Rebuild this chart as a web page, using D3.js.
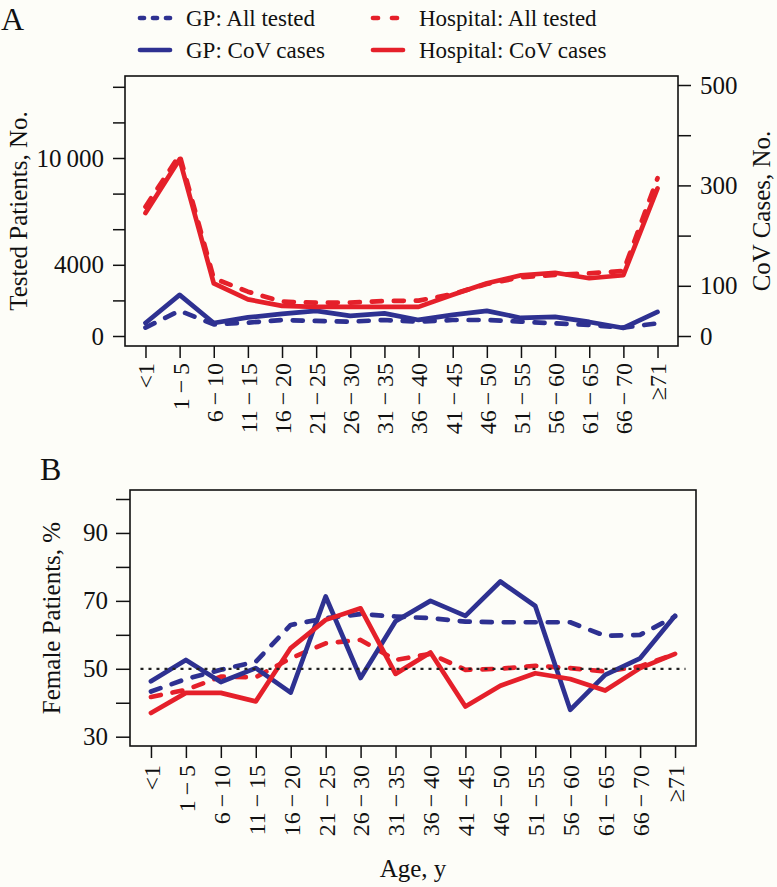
<!DOCTYPE html>
<html>
<head>
<meta charset="utf-8">
<script src="https://cdn.jsdelivr.net/npm/d3@7"></script>
<style>
  html, body { margin: 0; padding: 0; background: #fdfdf8; }
  svg { display: block; }
  text { font-family: "Liberation Serif", "Times New Roman", serif; fill: #111; }
</style>
</head>
<body>
<svg id="chart" width="777" height="887"></svg>
<script>
// ---------------- DATA ----------------
const categories = ["<1","1\u2009\u2212\u20095","6\u2009\u2212\u200910","11\u2009\u2212\u200915","16\u2009\u2212\u200920","21\u2009\u2212\u200925","26\u2009\u2212\u200930","31\u2009\u2212\u200935","36\u2009\u2212\u200940","41\u2009\u2212\u200945","46\u2009\u2212\u200950","51\u2009\u2212\u200955","56\u2009\u2212\u200960","61\u2009\u2212\u200965","66\u2009\u2212\u200970","\u226571"];

// Panel A: tested patients (left axis) and CoV cases (right axis)
const gpTested   = [470,1420,655,750,900,845,805,900,805,900,900,805,710,620,470,710];
const hospTested = [7265,10170,3240,2490,1930,1870,1880,1965,1985,2360,2920,3295,3430,3520,3650,8860];
const gpCases    = [26,82,26,37,44,50,40,45,32,42,50,36,38,28,16,48];
const hospCases  = [245,352,105,73,60,58,58,58,58,82,105,121,126,115,121,294];

// Panel B: female patients, %
const gpTestedFemale   = [43.3,47.0,49.7,52.1,62.9,64.9,66.1,65.4,64.9,63.9,63.7,63.7,63.7,59.7,60.0,65.4];
const hospTestedFemale = [41.7,43.8,47.7,47.5,53.1,57.5,58.5,52.6,54.4,49.7,50.0,50.9,50.2,49.2,50.7,54.4];
const gpCasesFemale    = [46.3,52.6,46.1,50.2,43.0,71.3,47.3,64.0,70.0,65.6,75.7,68.5,37.9,48.2,53.1,65.6];
const hospCasesFemale  = [37.0,42.9,42.9,40.4,56.1,64.4,67.8,48.5,54.8,38.9,45.0,48.7,47.0,43.6,50.2,54.4];

// Axis ticks / labels
const leftTicksA  = [0,2000,4000,6000,8000,10000,12000,14000];
const leftLabelsA = {0:"0", 4000:"4000", 10000:"10\u2009000"};
const rightTicksA  = [0,100,200,300,400,500];
const rightLabelsA = {0:"0", 100:"100", 300:"300", 500:"500"};
const ticksB  = [30,40,50,60,70,80,90,100];
const labelsB = {30:"30", 50:"50", 70:"70", 90:"90"};
const refLineB = 50;

const legendItems = [
  {label:"GP: All tested",       color:"gp",   dashed:true,  col:0, row:0},
  {label:"Hospital: All tested", color:"hosp", dashed:true,  col:1, row:0},
  {label:"GP: CoV cases",        color:"gp",   dashed:false, col:0, row:1},
  {label:"Hospital: CoV cases",  color:"hosp", dashed:false, col:1, row:1}
];

// ---------------- STYLE ----------------
const COL = {gp:"#2e3191", hosp:"#e5202a"};
const LW = 4.7;
const DASH = "10,12";
const TICK_FS = 25, XTICK_FS = 24, TITLE_FS = 25;
const FONT = "'Liberation Serif', 'Times New Roman', serif";

const svg = d3.select("#chart");
const idx = d3.range(categories.length);

// ---------------- PANEL A ----------------
const A = {l:125, r:678, t:76, b:346};
const xA = d3.scaleLinear().domain([-0.6, categories.length - 1 + 0.6]).range([A.l, A.r]);
const yL = d3.scaleLinear().domain([0,14000]).range([336, 86.8]);
const yR = d3.scaleLinear().domain([0,500]).range([336, 85]);

function styleAxis(g){
  g.attr("font-family", FONT);
  g.select(".domain").remove();
  g.selectAll(".tick line").attr("stroke","#111").attr("stroke-width",1.5);
  g.selectAll(".tick text").attr("font-size",TICK_FS).attr("fill","#111")
    .style("font-family", FONT);
}

svg.append("g").attr("transform",`translate(${A.l},0)`)
  .call(d3.axisLeft(yL).tickValues(leftTicksA).tickSize(12).tickPadding(9)
        .tickFormat(d => leftLabelsA[d] || ""))
  .call(styleAxis);

svg.append("g").attr("transform",`translate(${A.r},0)`)
  .call(d3.axisRight(yR).tickValues(rightTicksA).tickSize(13).tickPadding(9)
        .tickFormat(d => rightLabelsA[d] || ""))
  .call(styleAxis);

function xAxisRot(g, tickSize, pad){
  g.attr("font-family", FONT);
  g.select(".domain").remove();
  g.selectAll(".tick line").attr("stroke","#111").attr("stroke-width",1.5);
  g.selectAll(".tick text")
    .attr("font-size",XTICK_FS).attr("fill","#111")
    .style("font-family", FONT)
    .attr("transform","rotate(-90)")
    .attr("x", -(tickSize + pad)).attr("y", 0).attr("dy","0.35em")
    .attr("text-anchor","end");
}

svg.append("g").attr("transform",`translate(0,${A.b})`)
  .call(d3.axisBottom(xA).tickValues(idx).tickSize(12).tickFormat(i => categories[i]))
  .call(g => xAxisRot(g, 12, 5));

const lineL = d3.line().x((d,i)=>xA(i)).y(d=>yL(d));
const lineR = d3.line().x((d,i)=>xA(i)).y(d=>yR(d));

const gA = svg.append("g");
function drawLine(g, data, gen, color, dashed){
  g.append("path").datum(data).attr("d", gen)
    .attr("fill","none").attr("stroke", COL[color]).attr("stroke-width", LW)
    .attr("stroke-linejoin","round").attr("stroke-linecap","round")
    .attr("stroke-dasharray", dashed ? DASH : null);
}
drawLine(gA, gpTested, lineL, "gp", true);
drawLine(gA, gpCases, lineR, "gp", false);
drawLine(gA, hospTested, lineL, "hosp", true);
drawLine(gA, hospCases, lineR, "hosp", false);

svg.append("rect").attr("x",A.l).attr("y",A.t).attr("width",A.r-A.l).attr("height",A.b-A.t)
  .attr("fill","none").attr("stroke","#111").attr("stroke-width",1.6);

svg.append("text").attr("transform",`translate(27,${(A.t+A.b)/2}) rotate(-90)`)
  .attr("text-anchor","middle").attr("font-size",TITLE_FS).text("Tested Patients, No.");
svg.append("text").attr("transform",`translate(770,${(A.t+A.b)/2}) rotate(-90)`)
  .attr("text-anchor","middle").attr("font-size",TITLE_FS).text("CoV Cases, No.");

svg.append("text").attr("x",1).attr("y",30).attr("font-size",32).text("A");

// legend
const legX = [137, 370], legY = [18, 50];
legendItems.forEach(it => {
  const x0 = legX[it.col], y0 = legY[it.row];
  svg.append("line").attr("x1",x0+3).attr("x2",x0+33).attr("y1",y0).attr("y2",y0)
    .attr("stroke",COL[it.color]).attr("stroke-width",LW).attr("stroke-linecap","round")
    .attr("stroke-dasharray", it.dashed ? (it.color==="gp" ? "4,9" : "5,14") : null);
  svg.append("text").attr("x",x0+49).attr("y",y0).attr("dy","0.35em")
    .attr("font-size",23).text(it.label);
});

// ---------------- PANEL B ----------------
const B = {l:130, r:696, t:490, b:746};
const xB = d3.scaleLinear().domain([-0.6, categories.length - 1 + 0.6]).range([B.l, B.r]);
const yB = d3.scaleLinear().domain([30,100]).range([736.7, 499]);

svg.append("g").attr("transform",`translate(${B.l},0)`)
  .call(d3.axisLeft(yB).tickValues(ticksB).tickSize(14).tickPadding(8)
        .tickFormat(d => labelsB[d] || ""))
  .call(styleAxis);

svg.append("g").attr("transform",`translate(0,${B.b})`)
  .call(d3.axisBottom(xB).tickValues(idx).tickSize(12).tickFormat(i => categories[i]))
  .call(g => xAxisRot(g, 12, 7));

const gB = svg.append("g");
svg.append("line").attr("x1",xB(-0.3)).attr("x2",xB(15.3)).attr("y1",yB(refLineB)).attr("y2",yB(refLineB))
  .attr("stroke","#222").attr("stroke-width",2.2).attr("stroke-dasharray","3,5");
const lineB = d3.line().x((d,i)=>xB(i)).y(d=>yB(d));
drawLine(gB, gpTestedFemale, lineB, "gp", true);
drawLine(gB, hospTestedFemale, lineB, "hosp", true);
drawLine(gB, gpCasesFemale, lineB, "gp", false);
drawLine(gB, hospCasesFemale, lineB, "hosp", false);

svg.append("rect").attr("x",B.l).attr("y",B.t).attr("width",B.r-B.l).attr("height",B.b-B.t)
  .attr("fill","none").attr("stroke","#111").attr("stroke-width",1.6);

svg.append("text").attr("transform",`translate(60,${(B.t+B.b)/2}) rotate(-90)`)
  .attr("text-anchor","middle").attr("font-size",TITLE_FS).text("Female Patients, %");

svg.append("text").attr("x",40).attr("y",480).attr("font-size",32).text("B");

svg.append("text").attr("x",(B.l+B.r)/2).attr("y",877).attr("text-anchor","middle")
  .attr("font-size",TITLE_FS).text("Age, y");
</script>
</body>
</html>
